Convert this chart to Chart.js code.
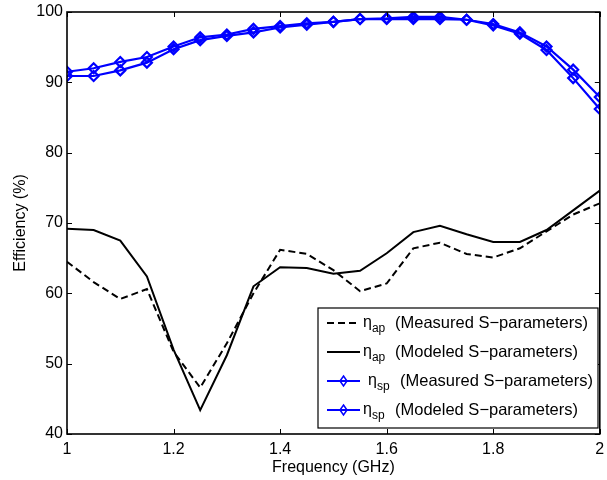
<!DOCTYPE html>
<html>
<head>
<meta charset="utf-8">
<script src="https://cdn.jsdelivr.net/npm/chart.js@4"></script>
<style>
  body { margin: 0; background: #fff; }
  canvas { display: block; }
</style>
</head>
<body>
<canvas id="effChart" width="607" height="480"></canvas>
<script>
// frequency points (GHz)
const freqs = [1.00, 1.05, 1.10, 1.15, 1.20, 1.25, 1.30, 1.35, 1.40, 1.45, 1.50,
               1.55, 1.60, 1.65, 1.70, 1.75, 1.80, 1.85, 1.90, 1.95, 2.00];

// efficiency values (%)
const etaApMeasured = [64.5, 61.6, 59.2, 60.6, 51.7, 46.6, 52.9, 60.0, 66.2, 65.6, 63.3,
                       60.3, 61.4, 66.4, 67.2, 65.6, 65.1, 66.4, 68.8, 71.2, 72.8];
const etaApModeled  = [69.2, 69.0, 67.5, 62.4, 52.0, 43.4, 51.2, 61.0, 63.7, 63.6, 62.8,
                       63.2, 65.7, 68.7, 69.6, 68.4, 67.3, 67.3, 69.0, 71.8, 74.6];
const etaSpMeasured = [91.5, 92.0, 92.9, 93.6, 95.1, 96.4, 96.8, 97.6, 98.0, 98.4, 98.6,
                       99.0, 99.1, 99.3, 99.3, 98.9, 98.3, 97.1, 95.1, 91.8, 87.9];
const etaSpModeled  = [90.9, 90.9, 91.7, 92.8, 94.7, 96.0, 96.6, 97.1, 97.8, 98.2, 98.6,
                       99.0, 99.0, 99.0, 99.0, 98.9, 98.1, 96.9, 94.6, 90.6, 86.2];

const xTicks = [1, 1.2, 1.4, 1.6, 1.8, 2];
const xTickLabels = ['1', '1.2', '1.4', '1.6', '1.8', '2'];
const yTicks = [40, 50, 60, 70, 80, 90, 100];

const legendLabels = [
  { sym: 'η', sub: 'ap', text: '(Measured S−parameters)', shift: 0 },
  { sym: 'η', sub: 'ap', text: '(Modeled S−parameters)', shift: 0 },
  { sym: 'η', sub: 'sp', text: '(Measured S−parameters)', shift: 5 },
  { sym: 'η', sub: 'sp', text: '(Modeled S−parameters)', shift: 0 }
];

const FONT = '"Liberation Sans", Arial, Helvetica, sans-serif';

function pts(vals) {
  return vals.map((v, i) => ({ x: freqs[i], y: v }));
}

// matlab-like box with inward ticks + legend
const boxPlugin = {
  id: 'boxPlugin',
  afterDatasetsDraw(chart) {
    const ctx = chart.ctx;
    const a = chart.chartArea;
    const xs = chart.scales.x, ys = chart.scales.y;
    ctx.save();
    ctx.strokeStyle = '#000';
    ctx.lineWidth = 1;
    ctx.beginPath();
    xTicks.forEach(t => {
      const px = Math.round(xs.getPixelForValue(t)) + 0.5;
      ctx.moveTo(px, a.bottom); ctx.lineTo(px, a.bottom - 5);
      ctx.moveTo(px, a.top); ctx.lineTo(px, a.top + 5);
    });
    yTicks.forEach(t => {
      const py = Math.round(ys.getPixelForValue(t)) + 0.5;
      ctx.moveTo(a.left, py); ctx.lineTo(a.left + 5, py);
      ctx.moveTo(a.right, py); ctx.lineTo(a.right - 5, py);
    });
    ctx.stroke();
    ctx.lineWidth = 1.6;
    ctx.strokeRect(a.left, a.top, a.right - a.left, a.bottom - a.top);

    // legend
    const lx = 318, ly = 308, lw = 280, lh = 120;
    ctx.fillStyle = '#fff';
    ctx.fillRect(lx, ly, lw, lh);
    ctx.lineWidth = 1.2;
    ctx.strokeStyle = '#000';
    ctx.strokeRect(lx, ly, lw, lh);
    chart.data.datasets.forEach((ds, i) => {
      const lab = legendLabels[i];
      const y = 323 + i * 29;
      ctx.save();
      ctx.strokeStyle = ds.borderColor;
      ctx.lineWidth = 2;
      ctx.setLineDash(ds.borderDash || []);
      ctx.beginPath();
      ctx.moveTo(327, y); ctx.lineTo(360, y);
      ctx.stroke();
      ctx.setLineDash([]);
      if (ds.pointRadius > 0) {
        ctx.lineWidth = 1.5;
        ctx.beginPath();
        ctx.moveTo(343.5, y - 5); ctx.lineTo(347, y);
        ctx.lineTo(343.5, y + 5); ctx.lineTo(340, y);
        ctx.closePath();
        ctx.stroke();
      }
      ctx.restore();
      const ex = 363 + lab.shift;
      ctx.fillStyle = '#000';
      ctx.textBaseline = 'middle';
      ctx.textAlign = 'left';
      ctx.font = '16px ' + FONT;
      ctx.fillText(lab.sym, ex, y);
      const w = ctx.measureText(lab.sym).width;
      ctx.font = '12px ' + FONT;
      ctx.fillText(lab.sub, ex + w, y + 6);
      ctx.font = '16.5px ' + FONT;
      ctx.fillText(lab.text, ex + 32, y);
    });
    ctx.restore();
  }
};

new Chart(document.getElementById('effChart'), {
  type: 'line',
  data: {
    datasets: [
      {
        label: 'η_ap (Measured S−parameters)',
        data: pts(etaApMeasured),
        borderColor: '#000',
        borderWidth: 2,
        borderDash: [7, 4],
        pointRadius: 0,
        tension: 0
      },
      {
        label: 'η_ap (Modeled S−parameters)',
        data: pts(etaApModeled),
        borderColor: '#000',
        borderWidth: 2,
        pointRadius: 0,
        tension: 0
      },
      {
        label: 'η_sp (Measured S−parameters)',
        data: pts(etaSpMeasured),
        borderColor: '#0000ff',
        borderWidth: 2.2,
        pointStyle: 'rectRot',
        pointRadius: 5,
        pointBorderWidth: 2.2,
        pointBackgroundColor: 'rgba(0,0,0,0)',
        pointBorderColor: '#0000ff',
        tension: 0
      },
      {
        label: 'η_sp (Modeled S−parameters)',
        data: pts(etaSpModeled),
        borderColor: '#0000ff',
        borderWidth: 2.2,
        pointStyle: 'rectRot',
        pointRadius: 5,
        pointBorderWidth: 2.2,
        pointBackgroundColor: 'rgba(0,0,0,0)',
        pointBorderColor: '#0000ff',
        tension: 0
      }
    ]
  },
  options: {
    responsive: false,
    animation: false,
    layout: { padding: { top: 12, right: 5, left: 0, bottom: 0 } },
    plugins: {
      legend: { display: false },
      tooltip: { enabled: false }
    },
    scales: {
      x: {
        type: 'linear',
        min: 1,
        max: 2,
        afterBuildTicks: s => { s.ticks = xTicks.map(v => ({ value: v })); },
        afterFit: s => { s.height = 46; s.paddingLeft = 0; s.paddingRight = 0; },
        grid: { display: false, drawTicks: false },
        border: { display: false },
        ticks: {
          color: '#000',
          padding: 6,
          maxRotation: 0,
          autoSkip: false,
          callback: (v, i) => xTickLabels[i],
          font: { family: FONT, size: 16 }
        },
        title: {
          display: true,
          text: 'Frequency (GHz)',
          color: '#000',
          padding: { top: 0, bottom: 3 },
          font: { family: FONT, size: 16 }
        }
      },
      y: {
        min: 40,
        max: 100,
        afterBuildTicks: s => { s.ticks = yTicks.map(v => ({ value: v })); },
        afterFit: s => { s.width = 67; s.paddingTop = 0; s.paddingBottom = 0; },
        grid: { display: false, drawTicks: false },
        border: { display: false },
        ticks: {
          color: '#000',
          padding: 4,
          font: { family: FONT, size: 16 }
        },
        title: {
          display: true,
          text: 'Efficiency (%)',
          color: '#000',
          padding: { top: 11, bottom: 0 },
          font: { family: FONT, size: 16 }
        }
      }
    }
  },
  plugins: [boxPlugin]
});
</script>
</body>
</html>
